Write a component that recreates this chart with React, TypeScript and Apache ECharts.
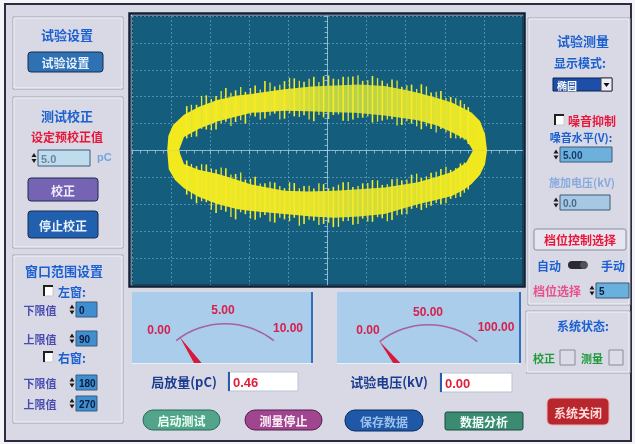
import { useEffect, useRef } from 'react';
import * as echarts from 'echarts';

// ---------------- data ----------------
// Scope: 10 x 10 divisions, centred on 0
const scopeMin = -5;
const scopeMax = 5;

// Lissajous (ellipse) band outlines, in divisions
const upperOuterEdge = [[-4.1, 0], [-4.07, 0.55], [-3.95, 0.95], [-3.67, 1.33], [-3.3, 1.62], [-2.82, 1.88], [-2.3, 2.04], [-1.95, 2.1], [-1.1, 2.28], [-0.4, 2.38], [0.18, 2.42], [0.8, 2.45], [1.46, 2.4], [2.0, 2.25], [2.31, 2.15], [2.8, 1.95], [3.18, 1.78], [3.5, 1.55], [3.69, 1.4], [3.9, 1.1], [4.03, 0.6], [4.08, 0]];
const upperInnerEdge = [[3.72, 0], [3.55, 0.4], [3.18, 0.68], [2.8, 0.93], [2.31, 1.12], [1.46, 1.3], [0.7, 1.4], [0.18, 1.42], [-0.5, 1.46], [-1.1, 1.48], [-1.95, 1.4], [-2.5, 1.2], [-2.82, 1.08], [-3.3, 0.8], [-3.67, 0.5], [-3.8, 0]];
const lowerOuterEdge = [[-4.1, 0], [-4.06, -0.7], [-3.9, -1.1], [-3.67, -1.4], [-3.3, -1.72], [-2.82, -1.99], [-2.3, -2.18], [-1.95, -2.25], [-1.1, -2.36], [-0.4, -2.45], [0.18, -2.5], [0.8, -2.45], [1.46, -2.36], [2.0, -2.13], [2.31, -2.0], [2.8, -1.83], [3.18, -1.69], [3.5, -1.45], [3.69, -1.24], [3.9, -0.9], [4.03, -0.5], [4.08, 0]];
const lowerInnerEdge = [[3.72, 0], [3.55, -0.45], [3.18, -0.8], [2.8, -0.98], [2.31, -1.18], [1.46, -1.38], [0.7, -1.45], [0.18, -1.5], [-0.5, -1.52], [-1.1, -1.5], [-1.95, -1.26], [-2.5, -1.0], [-2.82, -0.86], [-3.3, -0.72], [-3.67, -0.5], [-3.8, 0]];

// Discharge spikes on the band (two interleaved sets)
const spikeX = [-3.6, -3.35, -3.1, -2.85, -2.6, -2.35, -2.1, -1.85, -1.6, -1.35, -1.1, -0.85, -0.6, -0.35, -0.1, 0.15, 0.4, 0.65, 0.9, 1.15, 1.4, 1.65, 1.9, 2.15, 2.4, 2.65, 2.9, 3.15, 3.4, 3.6];
const upperSpikeTop = [1.65, 1.7, 2.05, 2.03, 2.32, 2.24, 2.18, 2.42, 2.58, 2.38, 2.58, 2.68, 2.56, 2.74, 2.76, 2.67, 2.74, 2.75, 2.59, 2.77, 2.6, 2.64, 2.37, 2.45, 2.46, 2.16, 2.21, 1.99, 1.87, 1.61];
const upperSpikeBottom = [0.45, 0.52, 0.78, 0.78, 1.07, 1.06, 1.0, 1.26, 1.19, 1.37, 1.18, 1.27, 1.31, 1.09, 1.23, 1.32, 1.11, 1.15, 1.22, 1.04, 1.11, 1.16, 0.95, 1.0, 0.79, 0.8, 0.8, 0.46, 0.45, 0.24];
const lowerSpikeTop = [-0.37, -0.58, -0.52, -0.71, -0.66, -0.87, -1.08, -0.98, -1.22, -1.19, -1.4, -1.21, -1.32, -1.41, -1.25, -1.35, -1.18, -1.36, -1.22, -1.1, -1.28, -1.07, -1.11, -0.9, -1.02, -0.83, -0.69, -0.72, -0.48, -0.42];
const lowerSpikeBottom = [-1.64, -1.96, -1.92, -2.32, -2.28, -2.56, -2.37, -2.57, -2.4, -2.68, -2.56, -2.5, -2.73, -2.61, -2.73, -2.85, -2.63, -2.76, -2.53, -2.65, -2.52, -2.58, -2.38, -2.17, -2.21, -2.05, -2.0, -1.8, -1.72, -1.45];

const spikeX2 = [-3.48, -3.22, -2.97, -2.72, -2.47, -2.22, -1.97, -1.72, -1.47, -1.22, -0.97, -0.72, -0.47, -0.22, 0.03, 0.28, 0.53, 0.78, 1.03, 1.28, 1.53, 1.78, 2.03, 2.28, 2.53, 2.78, 3.03, 3.28, 3.5];
const upperSpikeTop2 = [1.7, 2.03, 1.92, 2.21, 2.15, 2.36, 2.32, 2.27, 2.53, 2.44, 2.7, 2.59, 2.67, 2.55, 2.79, 2.65, 2.74, 2.8, 2.61, 2.69, 2.49, 2.6, 2.43, 2.29, 2.38, 2.18, 1.95, 1.95, 1.73];
const upperSpikeBottom2 = [0.5, 0.8, 0.75, 1.0, 0.91, 1.12, 1.3, 1.14, 1.3, 1.15, 1.38, 1.25, 1.15, 1.32, 1.17, 1.34, 1.1, 1.21, 1.26, 1.07, 1.15, 0.93, 1.09, 0.9, 0.9, 0.67, 0.68, 0.45, 0.4];
const lowerSpikeTop2 = [-0.5, -0.51, -0.67, -0.63, -0.89, -0.82, -1.05, -1.23, -1.16, -1.32, -1.18, -1.4, -1.31, -1.22, -1.4, -1.27, -1.17, -1.32, -1.21, -1.11, -1.25, -1.04, -1.08, -0.86, -0.96, -0.79, -0.6, -0.65, -0.45];
const lowerSpikeBottom2 = [-1.81, -1.89, -2.2, -2.21, -2.47, -2.3, -2.53, -2.49, -2.64, -2.5, -2.63, -2.8, -2.57, -2.77, -2.69, -2.84, -2.62, -2.73, -2.64, -2.48, -2.63, -2.41, -2.37, -2.13, -2.13, -1.95, -1.96, -1.77, -1.57];

// Meters
const pdRange = [0, 10];
const pdValue = 0.46;
const pdTickLabels = ['0.00', '5.00', '10.00'];
const kvRange = [0, 100];
const kvValue = 0.0;
const kvTickLabels = ['0.00', '50.00', '100.00'];

// Controls
const calibrationValue = '5.0';
const leftWindow = ['0', '90'];
const rightWindow = ['180', '270'];
const displayMode = '椭圆';
const noiseLevel = '5.00';
const appliedVoltage = '0.0';
const gearValue = '5';

// ---------------- helpers ----------------
const CJK = '"Noto Sans CJK SC", "Noto Sans", sans-serif';
const NUM = '"Liberation Sans", Arial, sans-serif';
const BG = '#d8d9e5';

function txt(x: number, y: number, text: string, fill: string, size = 12, align = 'center', family = CJK, weight = 'bold', z = 8) {
  return {
    type: 'text', x, y, z,
    style: { text, fill, font: `${weight} ${size}px ${family}`, textAlign: align, align, textVerticalAlign: 'middle', verticalAlign: 'middle' },
  };
}
function rect(x: number, y: number, w: number, h: number, fill: string, stroke?: string, lw = 1, r = 0, z = 1) {
  return { type: 'rect', z, shape: { x, y, width: w, height: h, r }, style: { fill, stroke: stroke || 'none', lineWidth: lw } };
}
function line(x1: number, y1: number, x2: number, y2: number, stroke: string, lw = 1, z = 2) {
  return { type: 'line', z, shape: { x1, y1, x2, y2 }, style: { stroke, lineWidth: lw } };
}
function panel(x: number, y: number, w: number, h: number) {
  return [
    rect(x, y, w, h, 'none', '#a2a2b6', 1, 0, 1),
    rect(x + 1, y + 1, w - 2, h - 2, 'none', '#f2f2f8', 1, 0, 1),
  ];
}
function spin(cx: number, cy: number) {
  return [
    { type: 'polygon', z: 7, shape: { points: [[cx - 2.5, cy - 1], [cx + 2.5, cy - 1], [cx, cy - 5]] }, style: { fill: '#1a1a1a' } },
    { type: 'polygon', z: 7, shape: { points: [[cx - 2.5, cy + 1], [cx + 2.5, cy + 1], [cx, cy + 5]] }, style: { fill: '#1a1a1a' } },
  ];
}
function numBox(x: number, y: number, w: number, h: number, fill: string, value: string, color: string, size = 10) {
  return [
    ...spin(x - 4, y + h / 2),
    rect(x, y, w, h, fill, '#3a5a7a', 1, 0, 6),
    txt(x + 3, y + h / 2 + 0.5, value, color, size, 'left', NUM),
  ];
}
function checkbox(x: number, y: number) {
  return [
    rect(x, y, 9, 10, '#ffffff', '#c8c8d0', 1, 0, 6),
    { type: 'polyline', z: 7, shape: { points: [[x, y + 10], [x, y], [x + 9, y]] }, style: { stroke: '#202020', lineWidth: 2, fill: 'none' } },
  ];
}
function button(x: number, y: number, w: number, h: number, text: string, fill: string, color: string, r = 3, stroke = '#1a2a50') {
  return [
    rect(x, y, w, h, fill, stroke, 1, r, 6),
    txt(x + w / 2, y + h / 2 + 0.5, text, color, 12),
  ];
}

export default function App() {
  const ref = useRef<HTMLDivElement>(null);
  useEffect(() => {
    if (!ref.current) return;
    const chart = echarts.init(ref.current, null, { renderer: 'svg' });

    const upperBand = [...upperOuterEdge, ...upperInnerEdge];
    const lowerBand = [...lowerOuterEdge, ...lowerInnerEdge];
    const upperFill = new echarts.graphic.LinearGradient(0, 0, 1, 0, [
      { offset: 0, color: '#f3ea1c' },
      { offset: 0.35, color: '#ece42c' },
      { offset: 0.5, color: '#bfd444' },
      { offset: 0.62, color: '#b6cf4a' },
      { offset: 0.75, color: '#d8dd34' },
      { offset: 1, color: '#f3ea1c' },
    ]);
    const lowerFill = new echarts.graphic.LinearGradient(0, 0, 1, 0, [
      { offset: 0, color: '#f3ea1c' },
      { offset: 0.45, color: '#e6e22e' },
      { offset: 0.6, color: '#d2da3a' },
      { offset: 1, color: '#f3ea1c' },
    ]);

    const polygonRender = (src: number[][], fill: any) => (params: any, api: any) => {
      if (params.dataIndex !== 0) return null;
      return { type: 'polygon', shape: { points: src.map((p) => api.coord(p)) }, style: { fill } };
    };
    const spikeRender = (color: string, width: number) => (params: any, api: any) => {
      const p1 = api.coord([api.value(0), api.value(1)]);
      const p2 = api.coord([api.value(0), api.value(2)]);
      return { type: 'line', shape: { x1: p1[0], y1: p1[1], x2: p2[0], y2: p2[1] }, style: { stroke: color, lineWidth: width } };
    };
    const spikeSeries = (xs: number[], lo: number[], hi: number[], color: string, width: number) => ({
      type: 'custom', z: 4, renderItem: spikeRender(color, width),
      data: xs.map((x, i) => [x, lo[i], hi[i]]), encode: { x: 0, y: [1, 2] },
    });

    const gaugeBase = (center: number[], range: number[], value: number) => ({
      type: 'gauge', z: 3,
      center, radius: 80, startAngle: 128, endAngle: 52,
      min: range[0], max: range[1], splitNumber: 2,
      axisLine: { lineStyle: { width: 1.5, color: [[1, '#a8609e']] } },
      axisTick: { show: false }, splitLine: { show: false }, axisLabel: { show: false },
      pointer: { show: true, width: 8, length: '100%', itemStyle: { color: '#d8183c' } },
      anchor: { show: false }, title: { show: false }, detail: { show: false },
      data: [{ value }],
    });

    const graphics: any[] = [
      // window
      rect(0, 0, 635, 444, '#f4f4f8', undefined, 1, 0, 0),
      rect(5, 4, 626, 437, BG, '#2c2c3c', 2, 0, 0),
      // scope frame
      rect(129.5, 13.5, 395, 273, 'none', '#0e2038', 2.5, 0, 2),
      // left panels
      ...panel(13, 17, 110, 72),
      ...panel(13, 97, 110, 151),
      ...panel(13, 255, 110, 168),
      // right panels
      ...panel(528, 18, 102, 287),
      ...panel(526, 311, 104, 62),
      // gauge panels
      rect(132, 292, 181, 71, '#a9cdea', undefined, 1, 0, 1),
      line(312, 292, 312, 363, '#2f6fc0', 2, 2),
      rect(337, 292, 184, 71, '#a9cdea', undefined, 1, 0, 1),
      line(520, 292, 520, 363, '#2f6fc0', 2, 2),
      // cover for gauge pivots
      rect(128, 363.5, 398, 76, BG, undefined, 1, 0, 5),
      line(132, 363.5, 313, 363.5, '#e8f2fa', 1, 6),
      line(337, 363.5, 521, 363.5, '#e8f2fa', 1, 6),

      // ---- left column ----
      txt(67, 34, '试验设置', '#1b5fd0', 13),
      ...button(28, 52, 75, 20, '试验设置', '#2f72b4', '#e6f0ff'),
      txt(67, 115, '测试校正', '#1b5fd0', 13),
      txt(67, 136, '设定预校正值', '#e8163a', 12),
      ...numBox(38, 150, 52, 16, '#bfdcec', calibrationValue, '#6a86a4', 11),
      txt(97, 157, 'pC', '#74a6dc', 11, 'left', NUM),
      ...button(28, 178, 70, 23, '校正', '#7564b4', '#f0eaff'),
      ...button(28, 211, 70, 27, '停止校正', '#2160ae', '#e6f0ff'),
      txt(64, 270, '窗口范围设置', '#1b5fd0', 13),
      ...checkbox(44, 286),
      txt(58, 291, '左窗:', '#1b5fd0', 12, 'left'),
      txt(40, 310, '下限值', '#4a4cb0', 11),
      ...numBox(76, 302, 21, 15, '#3f8fd0', leftWindow[0], '#0a1a40', 10),
      txt(40, 339, '上限值', '#4a4cb0', 11),
      ...numBox(76, 331, 21, 15, '#3f8fd0', leftWindow[1], '#0a1a40', 10),
      ...checkbox(44, 352),
      txt(58, 357, '右窗:', '#1b5fd0', 12, 'left'),
      txt(40, 383, '下限值', '#4a4cb0', 11),
      ...numBox(76, 375, 21, 15, '#3f8fd0', rightWindow[0], '#0a1a40', 10),
      txt(40, 404, '上限值', '#4a4cb0', 11),
      ...numBox(76, 396, 21, 15, '#3f8fd0', rightWindow[1], '#0a1a40', 10),

      // ---- right column ----
      txt(583, 40, '试验测量', '#1b5fd0', 13),
      txt(580, 62, '显示模式:', '#1b5fd0', 12),
      rect(553, 78, 59, 13, '#1d4fa8', '#0a2050', 1, 0, 6),
      txt(557, 85, displayMode, '#ffffff', 10, 'left'),
      rect(601, 78, 11, 13, '#eeeef4', '#404050', 1, 0, 7),
      { type: 'polygon', z: 8, shape: { points: [[603.5, 83], [609.5, 83], [606.5, 87]] }, style: { fill: '#101010' } },
      ...checkbox(555, 115),
      txt(568, 120, '噪音抑制', '#e8163a', 12, 'left'),
      txt(581, 137, '噪音水平(V):', '#1b5fd0', 11),
      ...numBox(560, 147, 52, 15, '#6eb0dc', noiseLevel, '#1a3a6a', 10),
      txt(582, 182, '施加电压(kV)', '#88aadc', 11),
      ...numBox(560, 195, 50, 15, '#a6c8e2', appliedVoltage, '#4a6a8a', 10),
      rect(534, 229, 92, 21, '#e6e6f0', '#8a8a9c', 1, 2, 6),
      txt(580, 239.5, '档位控制选择', '#e8163a', 12),
      txt(549, 265, '自动', '#1b5fd0', 12),
      rect(568, 261, 19, 8, '#2a2a34', undefined, 1, 4, 6),
      { type: 'circle', z: 7, shape: { cx: 584, cy: 265, r: 4 }, style: { fill: '#505058' } },
      txt(613, 265, '手动', '#1b5fd0', 12),
      txt(557, 290, '档位选择', '#e8508a', 12),
      ...numBox(596, 283, 33, 15, '#6ab0dc', gearValue, '#0a1a40', 10),
      txt(583, 325, '系统状态:', '#1b5fd0', 12),
      txt(544, 358, '校正', '#1f9a3a', 11),
      rect(560, 350, 15, 15, '#dcdce6', '#8a8a9a', 1, 0, 6),
      txt(592, 358, '测量', '#1f9a3a', 11),
      rect(609, 350, 14, 15, '#dcdce6', '#8a8a9a', 1, 0, 6),
      ...button(547, 398, 62, 27, '系统关闭', '#b8262e', '#ffd8d8', 5, '#f0b0b0'),

      // ---- meters ----
      txt(159, 330, pdTickLabels[0], '#d8204c', 12, 'center', NUM),
      txt(223, 310, pdTickLabels[1], '#d8204c', 12, 'center', NUM),
      txt(288, 328, pdTickLabels[2], '#d8204c', 12, 'center', NUM),
      txt(368, 330, kvTickLabels[0], '#d8204c', 12, 'center', NUM),
      txt(428, 312, kvTickLabels[1], '#d8204c', 12, 'center', NUM),
      txt(496, 327, kvTickLabels[2], '#d8204c', 12, 'center', NUM),
      txt(184, 381, '局放量(pC)', '#1c3c90', 13),
      rect(228, 372, 70, 19, '#ffffff', '#b8c4d4', 1, 0, 6),
      line(229, 372, 229, 391, '#2a5ab0', 2, 7),
      txt(233, 382, pdValue.toFixed(2), '#e0203a', 13, 'left', NUM),
      txt(389, 381, '试验电压(kV)', '#1c3c90', 13),
      rect(440, 373, 72, 19, '#ffffff', '#b8c4d4', 1, 0, 6),
      line(441, 373, 441, 392, '#2a5ab0', 2, 7),
      txt(445, 383, kvValue.toFixed(2), '#e0203a', 13, 'left', NUM),

      // ---- bottom buttons ----
      ...button(143, 410, 77, 20, '启动测试', '#52a48a', '#eafff4', 10, '#2a6a58'),
      ...button(245, 410, 77, 20, '测量停止', '#a0468e', '#fff0fa', 10, '#5a1a50'),
      ...button(345, 410, 78, 21, '保存数据', '#1e58a6', '#9cc0ee', 10, '#0a2a60'),
      ...button(445, 412, 78, 18, '数据分析', '#3b8a72', '#f0fff8', 2, '#1a4a3a'),
    ];

    const axisCommon = {
      type: 'value', min: scopeMin, max: scopeMax, interval: 1, z: 1,
      axisLabel: { show: false },
      axisLine: { show: true, onZero: true, lineStyle: { color: 'rgba(170,210,232,0.75)', width: 1 } },
      axisTick: { show: true, length: 4, lineStyle: { color: 'rgba(170,210,232,0.75)' } },
      minorTick: { show: true, splitNumber: 5, length: 3, lineStyle: { color: 'rgba(170,210,232,0.7)' } },
      splitLine: { show: true, lineStyle: { color: 'rgba(140,190,220,0.5)', type: [2, 2], width: 1 } },
    };

    chart.setOption({
      animation: false,
      grid: {
        left: 132, top: 16, width: 391, height: 269, z: 1,
        show: true, backgroundColor: '#155d7d', borderColor: '#0c2840', borderWidth: 1,
      },
      xAxis: { ...axisCommon },
      yAxis: { ...axisCommon },
      series: [
        { type: 'custom', z: 3, renderItem: polygonRender(upperBand, upperFill), data: upperBand, encode: { x: 0, y: 1 } },
        { type: 'custom', z: 3, renderItem: polygonRender(lowerBand, lowerFill), data: lowerBand, encode: { x: 0, y: 1 } },
        spikeSeries(spikeX, upperSpikeBottom, upperSpikeTop, '#f4ec26', 1.6),
        spikeSeries(spikeX, lowerSpikeBottom, lowerSpikeTop, '#f4ec26', 1.6),
        spikeSeries(spikeX2, upperSpikeBottom2, upperSpikeTop2, '#dde63c', 1.3),
        spikeSeries(spikeX2, lowerSpikeBottom2, lowerSpikeTop2, '#ecea30', 1.3),
        gaugeBase([225, 403], pdRange, pdValue),
        gaugeBase([428.5, 404], kvRange, kvValue),
      ],
      graphic: { elements: graphics },
    });
    return () => chart.dispose();
  }, []);
  return <div ref={ref} style={{ position: 'fixed', left: 0, top: 0, width: 635, height: 444 }} />;
}
